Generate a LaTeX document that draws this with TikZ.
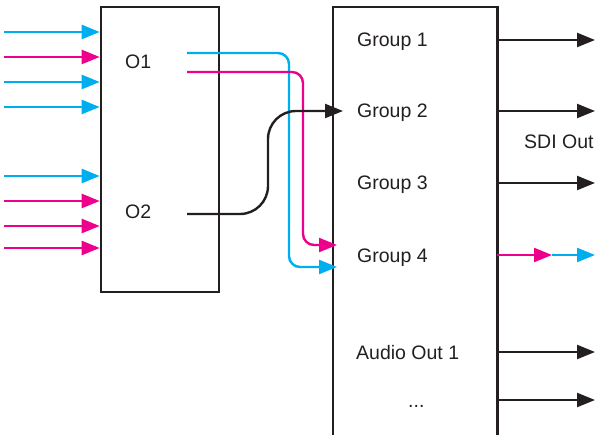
\documentclass[tikz,border=0pt]{standalone}
\usepackage{fontspec}
\setmainfont{Liberation Sans}
\usetikzlibrary{arrows.meta}
\definecolor{cy}{HTML}{00AEEF}
\definecolor{mg}{HTML}{EC008C}
\definecolor{ink}{HTML}{231F20}
\begin{document}
\begin{tikzpicture}[x=1pt,y=-1pt,
  box/.style={draw=ink,line width=2.6pt,fill=none},
  lbl/.style={anchor=base west,inner sep=0pt,text=ink,font=\fontsize{19.5}{23}\selectfont},
  conn/.style={line width=2.4pt,-{Triangle[length=18pt,width=14pt]}},
  cyl/.style={conn,draw=cy},
  mgl/.style={conn,draw=mg},
  bkl/.style={conn,draw=ink}]
\useasboundingbox (0,0) rectangle (601,435);
% left box
\node[box,minimum width=118pt,minimum height=285pt,inner sep=0pt] (L) at (160,149.5) {};
% right box (open at bottom)
\coordinate (Rbl) at (333,440);
\coordinate (Rtl) at (333,7);
\coordinate (Rtr) at (497.5,7);
\coordinate (Rbr) at (497.5,440);
\draw[draw=ink,line width=2.6pt] (Rbl) -- (Rtl) -- (Rtr) -- (Rbr);
% labels
\node[lbl] (o1) at (125,69) {O1};
\node[lbl] (o2) at (125,219) {O2};
\node[lbl] (g1) at (357,47) {Group 1};
\node[lbl] (g2) at (357,118) {Group 2};
\node[lbl] (g3) at (357,190) {Group 3};
\node[lbl] (g4) at (357,262) {Group 4};
\node[lbl] (a1) at (356,359) {Audio Out 1};
\node[lbl] (dots) at (408,407) {...};
\node[lbl] (sdi) at (524,149) {SDI Out};
% inputs
\foreach \y/\c [count=\i] in {32/cyl,57/mgl,82/cyl,107/cyl,176/cyl,201/mgl,226/mgl,248/mgl}{
  \coordinate (in\i) at (4,\y);
  \draw[\c] (in\i) -- (in\i -| L.west);
}
% internal routing
\coordinate (o1c) at (187,53);
\coordinate (o1m) at (187,72);
\coordinate (o2k) at (187,214);
\coordinate (t4m) at (337,245);
\coordinate (t4c) at (337,267);
\coordinate (t2) at (343,111);
\draw[cyl,rounded corners=11pt] (o1c) -| (289,267) -- (t4c);
\draw[mgl,rounded corners=11pt] (o1m) -| (303,245) -- (t4m);
\draw[bkl,rounded corners=28pt] (o2k) -| (268,111) -- (t2);
% outputs
\foreach \y [count=\i] in {40,111,183,352,400}{
  \coordinate (os\i) at (497,\y);
  \coordinate (oe\i) at (595,\y);
  \draw[bkl] (os\i) -- (oe\i);
}
\coordinate (os4) at (497,255);
\coordinate (om4) at (552,255);
\coordinate (oe4) at (595,255);
\draw[cyl] (om4) -- (oe4);
\draw[mgl] (os4) -- (om4);
\end{tikzpicture}
\end{document}
